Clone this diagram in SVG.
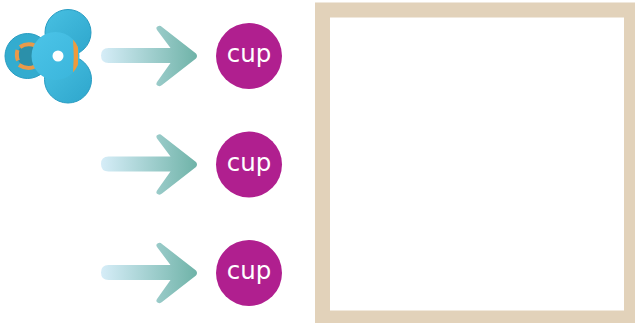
<svg xmlns="http://www.w3.org/2000/svg" width="635" height="323" viewBox="0 0 635 323">
<style>
.cup{fill:#b01f8f}
.lbl{fill:#fff;font-family:"DejaVu Sans",sans-serif;font-size:24.500px;text-anchor:middle}
.orange{fill:none;stroke:#e99a4a;stroke-width:4}
</style>
<defs>
<linearGradient id="ag" gradientUnits="userSpaceOnUse" x1="101" y1="0" x2="197" y2="0">
<stop offset="0" stop-color="#d6edf8"/><stop offset="1" stop-color="#6fb3a8"/>
</linearGradient>
<linearGradient id="bl" x1="0" y1="0" x2="1" y2="1">
<stop offset="0" stop-color="#48c0e2"/><stop offset="1" stop-color="#2ea6cc"/>
</linearGradient>
<linearGradient id="fr" x1="0" y1="0" x2="1" y2="1">
<stop offset="0" stop-color="#4cc4e8"/><stop offset="1" stop-color="#3ab5db"/>
</linearGradient>
<clipPath id="fc"><circle cx="55.500" cy="56" r="24"/></clipPath>
<path id="arrow" d="M108.500 48H170.500L157 30Q155.500 27.500 157.500 26.500Q160 25 162 27L196 53.500Q198 56 196 58.500L162 85Q160 87 157.500 85.500Q155.500 84.500 157 82L170.500 63H108.500Q101 63 101 55.500Q101 48 108.500 48Z" fill="url(#ag)"/>
</defs>
<g id="icon">
<circle cx="68" cy="32.500" r="23" fill="url(#bl)" stroke="#279cc2" stroke-width="1"/>
<circle cx="68" cy="79.500" r="23.500" fill="url(#bl)" stroke="#279cc2" stroke-width="1"/>
<circle cx="27.500" cy="56" r="22.500" fill="#33accf" stroke="#279cc2" stroke-width="1"/>
<circle cx="28" cy="55.500" r="11" fill="#2b90aa"/>
<path class="orange" d="M20 47Q27 42.500 35 45.500"/>
<path class="orange" d="M19 65Q27 70 35 66.500"/>
<path class="orange" d="M17.500 50Q16 56 18 60.500"/>
<circle cx="55.500" cy="56" r="24" fill="url(#fr)"/>
<path d="M73 39H78V73H73Q74.500 56 73 39Z" fill="#ef9a3c" clip-path="url(#fc)"/>
<circle cx="58" cy="56" r="5.500" fill="#fff"/>
</g>
<g id="connectors">
<use href="#arrow"/>
<use href="#arrow" y="108.500"/>
<use href="#arrow" y="217"/>
</g>
<g id="cup1"><circle class="cup" cx="249" cy="56" r="33"/><text class="lbl" x="249" y="62">cup</text></g>
<g id="cup2"><circle class="cup" cx="249" cy="164.500" r="33"/><text class="lbl" x="249" y="170.500">cup</text></g>
<g id="cup3"><circle class="cup" cx="249" cy="273" r="33"/><text class="lbl" x="249" y="279">cup</text></g>
<g id="frame"><rect x="322.500" y="10" width="309" height="308" fill="#fff" stroke="#e2d2ba" stroke-width="15"/></g>
</svg>
